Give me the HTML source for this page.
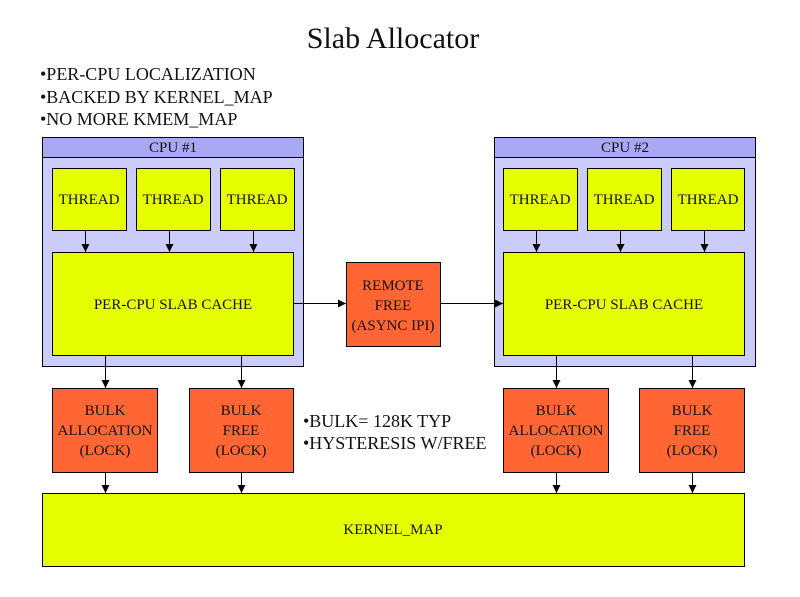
<!DOCTYPE html>
<html><head><meta charset="utf-8"><style>
html,body{margin:0;padding:0;background:#fff;}
svg{display:block;}
text{font-family:"Liberation Serif",serif;fill:#111;}
</style></head><body>
<svg width="800" height="597" viewBox="0 0 800 597" xmlns="http://www.w3.org/2000/svg">
<defs><marker id="a" markerWidth="8" markerHeight="10" refX="8" refY="4" orient="auto" markerUnits="userSpaceOnUse"><path d="M0,0 L8,4 L0,8 z" fill="#000"/></marker></defs>
<text x="393" y="48" font-size="30" text-anchor="middle">Slab Allocator</text>
<g font-size="18">
<text x="40" y="80">•PER-CPU LOCALIZATION</text>
<text x="40" y="103">•BACKED BY KERNEL_MAP</text>
<text x="40" y="125">•NO MORE KMEM_MAP</text>
</g>
<g stroke="#000" stroke-width="1">
<rect x="42.5" y="137.5" width="261" height="229" fill="#ccccfa"/>
<rect x="42.5" y="137.5" width="261" height="20" fill="#a8a8f4"/>
<rect x="494.5" y="137.5" width="261" height="229" fill="#ccccfa"/>
<rect x="494.5" y="137.5" width="261" height="20" fill="#a8a8f4"/>
<g fill="#e6ff00">
<rect x="52.5" y="168.5" width="74" height="62"/>
<rect x="136.5" y="168.5" width="74" height="62"/>
<rect x="220.5" y="168.5" width="74" height="62"/>
<rect x="503.5" y="168.5" width="74" height="62"/>
<rect x="587.5" y="168.5" width="74" height="62"/>
<rect x="671.5" y="168.5" width="73" height="62"/>
<rect x="52.5" y="252.5" width="241" height="103"/>
<rect x="503.5" y="252.5" width="241" height="103"/>
<rect x="42.5" y="493.5" width="702" height="73"/>
</g>
<g fill="#ff6633">
<rect x="346.5" y="262.5" width="94" height="84"/>
<rect x="52.5" y="388.5" width="105" height="84"/>
<rect x="189.5" y="388.5" width="104" height="84"/>
<rect x="503.5" y="388.5" width="105" height="84"/>
<rect x="639.5" y="388.5" width="105" height="84"/>
</g>
<g marker-end="url(#a)" fill="none">
<line x1="85.5" y1="231" x2="85.5" y2="252"/>
<line x1="169.5" y1="231" x2="169.5" y2="252"/>
<line x1="253.5" y1="231" x2="253.5" y2="252"/>
<line x1="536.5" y1="231" x2="536.5" y2="252"/>
<line x1="620.5" y1="231" x2="620.5" y2="252"/>
<line x1="704.5" y1="231" x2="704.5" y2="252"/>
<line x1="105.5" y1="356" x2="105.5" y2="388"/>
<line x1="241.5" y1="356" x2="241.5" y2="388"/>
<line x1="556.5" y1="356" x2="556.5" y2="388"/>
<line x1="692.5" y1="356" x2="692.5" y2="388"/>
<line x1="105.5" y1="473" x2="105.5" y2="493"/>
<line x1="241.5" y1="473" x2="241.5" y2="493"/>
<line x1="556.5" y1="473" x2="556.5" y2="493"/>
<line x1="692.5" y1="473" x2="692.5" y2="493"/>
<line x1="294" y1="303.5" x2="346" y2="303.5"/>
<line x1="441" y1="303.5" x2="503" y2="303.5"/>
</g>
</g>
<g font-size="15" text-anchor="middle">
<text x="173" y="152">CPU #1</text>
<text x="625" y="152">CPU #2</text>
<text x="89" y="204">THREAD</text>
<text x="173" y="204">THREAD</text>
<text x="257" y="204">THREAD</text>
<text x="540" y="204">THREAD</text>
<text x="624" y="204">THREAD</text>
<text x="708" y="204">THREAD</text>
<text x="173" y="309">PER-CPU SLAB CACHE</text>
<text x="624" y="309">PER-CPU SLAB CACHE</text>
<text x="393" y="290">REMOTE</text>
<text x="393" y="310">FREE</text>
<text x="393" y="330">(ASYNC IPI)</text>
<text x="105" y="415">BULK</text><text x="105" y="435">ALLOCATION</text><text x="105" y="455">(LOCK)</text>
<text x="241" y="415">BULK</text><text x="241" y="435">FREE</text><text x="241" y="455">(LOCK)</text>
<text x="556" y="415">BULK</text><text x="556" y="435">ALLOCATION</text><text x="556" y="455">(LOCK)</text>
<text x="692" y="415">BULK</text><text x="692" y="435">FREE</text><text x="692" y="455">(LOCK)</text>
<text x="393" y="534">KERNEL_MAP</text>
</g>
<g font-size="18">
<text x="303" y="427">•BULK= 128K TYP</text>
<text x="303" y="449">•HYSTERESIS W/FREE</text>
</g>
</svg>
</body></html>
